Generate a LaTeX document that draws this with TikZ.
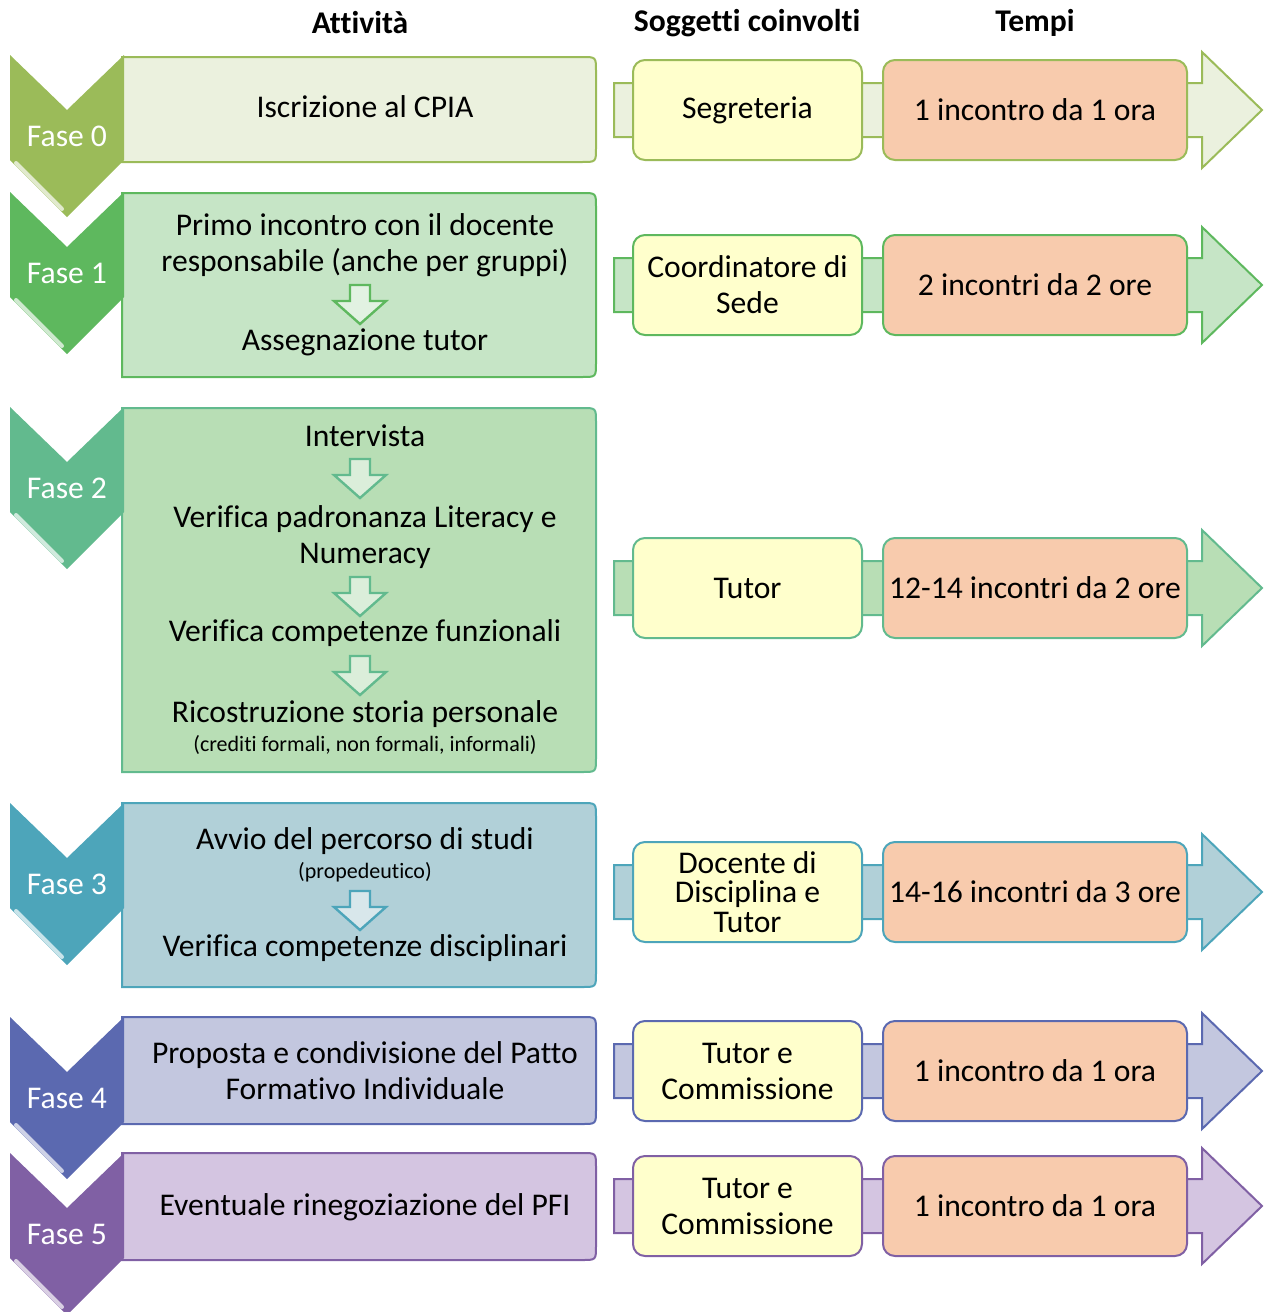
\documentclass[tikz,border=0pt]{standalone}
\usepackage{fontspec}
\setmainfont{Carlito}[Ligatures=NoCommon]

\definecolor{ver0}{HTML}{9BBB59}
\definecolor{ver0l}{HTML}{EBF1DE}
\definecolor{ver1}{HTML}{5EB85E}
\definecolor{ver1l}{HTML}{C6E5C6}
\definecolor{ver2}{HTML}{62BA8E}
\definecolor{ver2l}{HTML}{B8DEB5}
\definecolor{blu3}{HTML}{4DA5BA}
\definecolor{blu3l}{HTML}{B1D0D8}
\definecolor{blu4}{HTML}{5B69B0}
\definecolor{blu4l}{HTML}{C3C7DF}
\definecolor{vio5}{HTML}{8060A4}
\definecolor{vio5l}{HTML}{D4C5E1}
\definecolor{giallo}{HTML}{FFFFCC}
\definecolor{arancio}{HTML}{F8CBAD}

\begin{document}
\begin{tikzpicture}[x=0.5pt, y=-0.5pt,
  every node/.style={font=\fontsize{15.8}{18}\selectfont, inner sep=1pt},
  titolo/.style={font=\fontsize{15.8}{18}\selectfont\bfseries},
  fase/.style={text=white},
  att/.style={align=center, text height=11pt, text depth=3.5pt},
  nota/.style={font=\fontsize{11}{13}\selectfont},
  sogg/.style={draw, fill=giallo, rounded corners=6pt, line width=1pt, minimum width=114.5pt, minimum height=50pt, align=center},
  tempo/.style={sogg, fill=arancio, minimum width=152pt},
  box/.style={line width=1pt},
  giu/.style={line width=1.2pt},
  barra/.style={line width=1pt},
  luce/.style={white, opacity=0.7, line width=2pt, line cap=round}]
\useasboundingbox (0,0) rectangle (1264,1312);

% intestazioni
\node[titolo] (hatt) at (360,23) {Attività};
\node[titolo] (hsog) at (747,23) {Soggetti coinvolti};
\node[titolo] (htem) at (1035,23) {Tempi};

% riquadri attivita
\draw[box, draw=ver0, fill=ver0l] (122,162) -- (122,57) -- (582,57) .. controls (596,57) .. (596,71) -- (596,148) .. controls (596,162) .. (582,162) -- cycle;
\draw[box, draw=ver1, fill=ver1l] (122,377) -- (122,193) -- (582,193) .. controls (596,193) .. (596,207) -- (596,363) .. controls (596,377) .. (582,377) -- cycle;
\draw[box, draw=ver2, fill=ver2l] (122,772) -- (122,408) -- (582,408) .. controls (596,408) .. (596,422) -- (596,758) .. controls (596,772) .. (582,772) -- cycle;
\draw[box, draw=blu3, fill=blu3l] (122,987) -- (122,803) -- (582,803) .. controls (596,803) .. (596,817) -- (596,973) .. controls (596,987) .. (582,987) -- cycle;
\draw[box, draw=blu4, fill=blu4l] (122,1124) -- (122,1017) -- (582,1017) .. controls (596,1017) .. (596,1031) -- (596,1110) .. controls (596,1124) .. (582,1124) -- cycle;
\draw[box, draw=vio5, fill=vio5l] (122,1260) -- (122,1153) -- (582,1153) .. controls (596,1153) .. (596,1167) -- (596,1246) .. controls (596,1260) .. (582,1260) -- cycle;

% frecce delle fasi
\fill[ver0] (10,55) -- (67,110) -- (124,55) -- (124,160) -- (67,217) -- (10,160) -- cycle;
\fill[ver1] (10,192) -- (67,247) -- (124,192) -- (124,297) -- (67,354) -- (10,297) -- cycle;
\fill[ver2] (10,407) -- (67,462) -- (124,407) -- (124,512) -- (67,569) -- (10,512) -- cycle;
\fill[blu3] (10,803) -- (67,858) -- (124,803) -- (124,908) -- (67,965) -- (10,908) -- cycle;
\fill[blu4] (10,1017) -- (67,1072) -- (124,1017) -- (124,1122) -- (67,1179) -- (10,1122) -- cycle;
\fill[vio5] (10,1153) -- (67,1208) -- (124,1153) -- (124,1258) -- (67,1315) -- (10,1258) -- cycle;
\draw[luce] (16,163) -- (62,209);
\draw[luce] (16,300) -- (62,346);
\draw[luce] (16,515) -- (62,561);
\draw[luce] (16,911) -- (62,957);
\draw[luce] (16,1125) -- (62,1171);
\draw[luce] (16,1261) -- (62,1307);

\node[fase] (fase0) at (67,136) {Fase 0};
\node[fase] (fase1) at (67,273) {Fase 1};
\node[fase] (fase2) at (67,488) {Fase 2};
\node[fase] (fase3) at (67,884) {Fase 3};
\node[fase] (fase4) at (67,1098) {Fase 4};
\node[fase] (fase5) at (67,1234) {Fase 5};

% frecce interne
\draw[giu, draw=ver1, fill=ver1l!50!white] (350,285) -- (370,285) -- (370,301) -- (386,301) -- (360,324) -- (334,301) -- (350,301) -- cycle;
\draw[giu, draw=ver2, fill=ver2l!50!white] (350,459) -- (370,459) -- (370,475) -- (386,475) -- (360,498) -- (334,475) -- (350,475) -- cycle;
\draw[giu, draw=ver2, fill=ver2l!50!white] (350,577) -- (370,577) -- (370,593) -- (386,593) -- (360,616) -- (334,593) -- (350,593) -- cycle;
\draw[giu, draw=ver2, fill=ver2l!50!white] (350,656) -- (370,656) -- (370,672) -- (386,672) -- (360,695) -- (334,672) -- (350,672) -- cycle;
\draw[giu, draw=blu3, fill=blu3l!50!white] (350,891) -- (370,891) -- (370,907) -- (386,907) -- (360,930) -- (334,907) -- (350,907) -- cycle;

% testi attivita
\node[att] (att0) at (365,110) {Iscrizione al CPIA};
\node[align=center] (att1a) at (365,245) {Primo incontro con il docente\\responsabile (anche per gruppi)};
\node[att] (att1b) at (365,343) {Assegnazione tutor};
\node[att] (att2a) at (365,439) {Intervista};
\node[align=center] (att2b) at (365,537) {Verifica padronanza Literacy e\\Numeracy};
\node[att] (att2c) at (365,634) {Verifica competenze funzionali};
\node[att] (att2d) at (365,715) {Ricostruzione storia personale};
\node[nota] (att2e) at (365,745) {(crediti formali, non formali, informali)};
\node[att] (att3a) at (365,842) {Avvio del percorso di studi};
\node[nota] (att3b) at (365,872) {(propedeutico)};
\node[att] (att3c) at (365,949) {Verifica competenze disciplinari};
\node[align=center] (att4) at (365,1071) {Proposta e condivisione del Patto\\Formativo Individuale};
\node[att] (att5) at (365,1208) {Eventuale rinegoziazione del PFI};

% barre a destra
\draw[barra, draw=ver0, fill=ver0l] (614,83) -- (1202,83) -- (1202,52) -- (1262,110) -- (1202,168) -- (1202,137) -- (614,137) -- cycle;
\draw[barra, draw=ver1, fill=ver1l] (614,258) -- (1202,258) -- (1202,227) -- (1262,285) -- (1202,343) -- (1202,312) -- (614,312) -- cycle;
\draw[barra, draw=ver2, fill=ver2l] (614,561) -- (1202,561) -- (1202,530) -- (1262,588) -- (1202,646) -- (1202,615) -- (614,615) -- cycle;
\draw[barra, draw=blu3, fill=blu3l] (614,865) -- (1202,865) -- (1202,834) -- (1262,892) -- (1202,950) -- (1202,919) -- (614,919) -- cycle;
\draw[barra, draw=blu4, fill=blu4l] (614,1044) -- (1202,1044) -- (1202,1013) -- (1262,1071) -- (1202,1129) -- (1202,1098) -- (614,1098) -- cycle;
\draw[barra, draw=vio5, fill=vio5l] (614,1179) -- (1202,1179) -- (1202,1148) -- (1262,1206) -- (1202,1264) -- (1202,1233) -- (614,1233) -- cycle;

% soggetti e tempi
\node[sogg, draw=ver0] (sog0) at (747.5,110) {Segreteria};
\node[tempo, draw=ver0] (tem0) at (1035,110) {1 incontro da 1 ora};
\node[sogg, draw=ver1] (sog1) at (747.5,285) {Coordinatore di\\Sede};
\node[tempo, draw=ver1] (tem1) at (1035,285) {2 incontri da 2 ore};
\node[sogg, draw=ver2] (sog2) at (747.5,588) {Tutor};
\node[tempo, draw=ver2] (tem2) at (1035,588) {12-14 incontri da 2 ore};
\node[sogg, draw=blu3, font=\fontsize{15.8}{14.75}\selectfont] (sog3) at (747.5,892) {Docente di\\Disciplina e\\Tutor};
\node[tempo, draw=blu3] (tem3) at (1035,892) {14-16 incontri da 3 ore};
\node[sogg, draw=blu4] (sog4) at (747.5,1071) {Tutor e\\Commissione};
\node[tempo, draw=blu4] (tem4) at (1035,1071) {1 incontro da 1 ora};
\node[sogg, draw=vio5] (sog5) at (747.5,1206) {Tutor e\\Commissione};
\node[tempo, draw=vio5] (tem5) at (1035,1206) {1 incontro da 1 ora};
\end{tikzpicture}
\end{document}
